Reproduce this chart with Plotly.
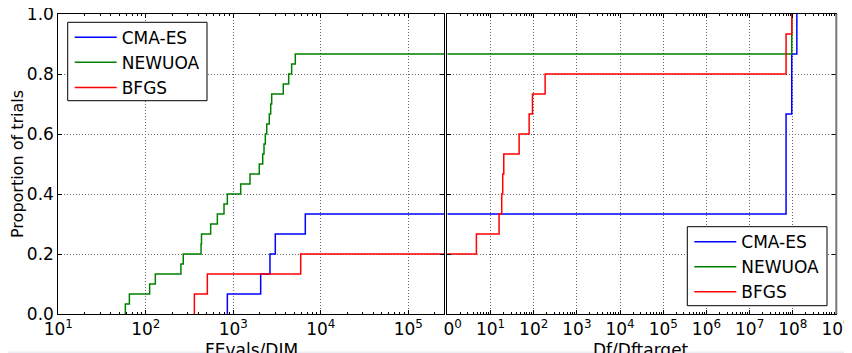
import plotly.graph_objects as go

# ---------------- data ----------------
algorithms = ["CMA-ES", "NEWUOA", "BFGS"]
colors = ["#0000ff", "#008000", "#ff0000"]

# left panel: FEvals/DIM at which each proportion of trials is reached
fevals_cmaes = [855, 2055, 2625, 3020, 6650]
prop_cmaes = [0.067, 0.133, 0.2, 0.267, 0.333]

fevals_newuoa = [58.4, 64.9, 110.7, 128.5, 252, 268, 428, 433, 551, 657, 783, 855,
                 1214, 1552, 1982, 2168, 2244, 2323, 2410, 2578, 2675, 2746, 3726,
                 4293, 4645, 5114]
prop_newuoa = [0.033, 0.067, 0.1, 0.133, 0.167, 0.2, 0.233, 0.267, 0.3, 0.333, 0.367,
               0.4, 0.433, 0.467, 0.5, 0.533, 0.567, 0.6, 0.633, 0.667, 0.7, 0.733,
               0.767, 0.8, 0.833, 0.867]

fevals_bfgs = [359, 505, 5890]
prop_bfgs = [0.067, 0.133, 0.2]

# right panel: Df/Dftarget
df_cmaes = [1, 6.98e7, 9.46e7, 1.24e8]
propdf_cmaes = [0.333, 0.667, 0.867, 1.0]

df_newuoa = [1, 9.46e7]
propdf_newuoa = [0.867, 1.0]

df_bfgs = [1, 4.72, 15.8, 18.2, 19.2, 20.3, 46.0, 78.5, 93.8, 184, 6.98e7, 9.46e7]
propdf_bfgs = [0.2, 0.267, 0.333, 0.4, 0.467, 0.533, 0.6, 0.667, 0.733, 0.8, 0.933, 1.0]

left_exponents = [1, 2, 3, 4, 5]
right_exponents = [0, 1, 2, 3, 4, 5, 6, 7, 8, 9]
y_ticks = [0.0, 0.2, 0.4, 0.6, 0.8, 1.0]

x_titles = ["FEvals/DIM", "Df/Dftarget"]
y_title = "Proportion of trials"

LEFT_LOG_RANGE = [1, 5.408]
RIGHT_LOG_RANGE = [0, 9]

# ---------------- layout geometry (page pixels; page body has 8px margin) ----------------
OFF = 8
PAGE_W, PAGE_H = 852, 353
W, H = PAGE_W - OFF, PAGE_H - OFF
PLOT_TOP, PLOT_BOT = 14, 314
T = PLOT_TOP - OFF
B = H - (PLOT_BOT - OFF)
PH = PLOT_BOT - PLOT_TOP
FONT = "DejaVu Sans"


def px(xpage):
    return (xpage - OFF) / W


def py(ypage):
    return (PLOT_BOT - ypage) / PH


fig = go.Figure()

left_data = [(fevals_cmaes, prop_cmaes), (fevals_newuoa, prop_newuoa), (fevals_bfgs, prop_bfgs)]
right_data = [(df_cmaes, propdf_cmaes), (df_newuoa, propdf_newuoa), (df_bfgs, propdf_bfgs)]

xmax_left = 10 ** LEFT_LOG_RANGE[1]
for name, col, (xs, ys) in zip(algorithms, colors, left_data):
    fig.add_trace(go.Scatter(
        x=[xs[0]] + xs + [xmax_left], y=[0] + ys + [ys[-1]],
        mode="lines", line=dict(color=col, width=1.5, shape="hv"),
        name=name, legend="legend", legendgroup="L" + name,
        xaxis="x", yaxis="y", cliponaxis=True))

for name, col, (xs, ys) in zip(algorithms, colors, right_data):
    fig.add_trace(go.Scatter(
        x=xs, y=ys,
        mode="lines", line=dict(color=col, width=1.5, shape="hv"),
        name=name, legend="legend2", legendgroup="R" + name,
        xaxis="x2", yaxis="y2", cliponaxis=True))

grid = dict(showgrid=True, gridcolor="#666666", gridwidth=1, griddash="1px,2px")
common = dict(showline=True, linecolor="black", linewidth=1, mirror="allticks",
              ticks="inside", ticklen=4, tickcolor="black", zeroline=False,
              automargin=False, ticklabeloverflow="allow",
              tickfont=dict(family=FONT, size=17, color="black"), **grid)
minor = dict(ticks="inside", ticklen=2, tickcolor="black", showgrid=False, dtick="D1")

left_ticktext = ["10<sup>%d</sup>" % e for e in left_exponents]
right_ticktext = ["10<sup>%d</sup>" % e for e in right_exponents]
right_ticktext[0] = "<span style='color:white'>1</span>0<sup>0</sup>"

legend_common = dict(xanchor="left", yanchor="top", bgcolor="rgba(0,0,0,0)",
                     borderwidth=0,
                     font=dict(family=FONT, size=17), tracegroupgap=0,
                     itemwidth=42)

# legend frames (page pixels): left, top, right, bottom
leg1_box = (67.7, 22.3, 207, 100.7)
leg2_box = (687.3, 226.7, 827, 305.7)

shapes = []
for (x0, y0, x1, y1) in (leg1_box, leg2_box):
    shapes.append(dict(type="rect", xref="paper", yref="paper",
                       x0=px(x0), x1=px(x1), y0=py(y1), y1=py(y0),
                       fillcolor="white", line=dict(color="black", width=1),
                       layer="above"))
shapes.append(dict(type="rect", xref="paper", yref="paper", x0=px(0), x1=px(PAGE_W),
                   y0=py(PAGE_H), y1=py(351.5),
                   fillcolor="#eceef4", line=dict(width=0), layer="above"))
# right spine of the right panel looks heavier / grey in the reference
shapes.append(dict(type="line", xref="paper", yref="paper", x0=px(836.3), x1=px(836.3),
                   y0=0, y1=1, line=dict(color="#777777", width=2), layer="above"))

annotations = []
for text, xc in zip(x_titles, (251.5, 640.5)):
    annotations.append(dict(text=text, xref="paper", yref="paper", x=px(xc), y=py(337.5),
                            xanchor="center", yanchor="top", showarrow=False,
                            font=dict(family=FONT, size=17, color="black")))

fig.update_layout(
    width=W, height=H,
    margin=dict(l=0, r=0, t=T, b=B, autoexpand=False),
    paper_bgcolor="white", plot_bgcolor="white",
    font=dict(family=FONT, size=17, color="black"),
    xaxis=dict(type="log", range=LEFT_LOG_RANGE, domain=[px(58.3), px(444)], anchor="y",
               tickvals=[10 ** e for e in left_exponents], ticktext=left_ticktext,
               minor=minor, **common),
    yaxis=dict(range=[0, 1], domain=[0, 1], anchor="x", tickvals=y_ticks,
               ticktext=["%.1f" % v for v in y_ticks],
               title=dict(text=y_title, font=dict(family=FONT, size=16), standoff=12),
               **common),
    xaxis2=dict(type="log", range=RIGHT_LOG_RANGE, domain=[px(447.3), px(836)], anchor="y2",
                tickvals=[10 ** e for e in right_exponents], ticktext=right_ticktext,
                minor=minor, **common),
    yaxis2=dict(range=[0, 1], domain=[0, 1], anchor="x2", tickvals=y_ticks,
                showticklabels=False, **common),
    legend=dict(x=px(leg1_box[0] + 2), y=py(leg1_box[1] - 2.6), **legend_common),
    legend2=dict(x=px(leg2_box[0] + 2), y=py(leg2_box[1] - 2.6), **legend_common),
    shapes=shapes,
    annotations=annotations,
    showlegend=True,
)

fig.write_html("out.html")
